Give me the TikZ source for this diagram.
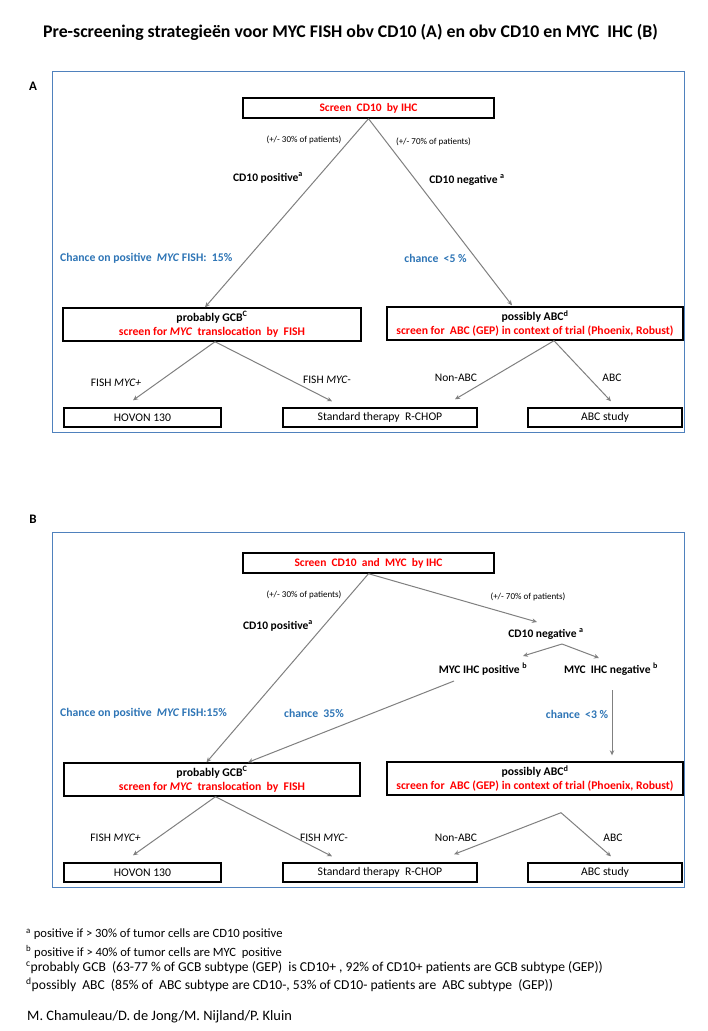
\documentclass[tikz,border=0pt]{standalone}
\usepackage{fontspec}
\setmainfont{Carlito}
\usetikzlibrary{arrows.meta}
\definecolor{panelblue}{RGB}{79,129,189}
\definecolor{txtblue}{RGB}{46,117,182}
\definecolor{lgray}{RGB}{128,128,128}
\newcommand{\fs}[1]{\fontsize{#1}{#1}\selectfont}
\begin{document}
\begin{tikzpicture}[x=1pt,y=-1pt,
  panel/.style={draw=panelblue,line width=0.9pt},
  box/.style={draw=black,line width=1.4pt,inner sep=0pt,align=center,font=\fs{11.7}},
  lbl/.style={inner sep=0pt,font=\fs{11.5}},
  blbl/.style={inner sep=0pt,font=\fs{11.5}\bfseries},
  small/.style={inner sep=0pt,font=\fs{9}},
  bluelbl/.style={inner sep=0pt,font=\fs{11.7}\bfseries,text=txtblue},
  conn/.style={draw=lgray,line width=1pt,-{Stealth[length=5pt,width=4.5pt]}},
  foot/.style={inner sep=0pt,anchor=west}]
\fill[white] (0,0) rectangle (708,1031);
\useasboundingbox (0,0) rectangle (708,1031);
% title
\node[inner sep=0pt,anchor=west,font=\fs{17.8}\bfseries] (title) at (43,32) {Pre-screening strategieën voor MYC FISH obv CD10 (A) en obv CD10 en MYC\ \ IHC (B)};
\node[inner sep=0pt,font=\fs{13}\bfseries] (labA) at (33,86) {A};
\node[inner sep=0pt,font=\fs{13}\bfseries] (labB) at (33,519) {B};
% ================= Panel A =================
\draw[panel] (52,71) rectangle (684,432);
\node[box,minimum width=251pt,minimum height=20pt,text=red,font=\fs{11.5}\bfseries] (scrA) at (368.5,108) {Screen\ \ CD10\ \ by IHC};
\node[box,minimum width=298pt,minimum height=33pt] (gcbA) at (212,324.5) {\textbf{probably GCB\textsuperscript{C}}\\[2.5pt]\textcolor{red}{\textbf{screen for \textit{MYC}\ \ translocation\ \ by\ \ FISH}}};
\node[box,minimum width=296pt,minimum height=33pt] (abcA) at (535,323.5) {\textbf{possibly ABC\textsuperscript{d}}\\[2.5pt]\textcolor{red}{\textbf{screen for\ \ ABC (GEP) in context of trial (Phoenix, Robust)}}};
\node[box,minimum width=157pt,minimum height=19pt] (hovA) at (142.5,417.5) {HOVON 130};
\node[box,minimum width=194pt,minimum height=19pt] (stdA) at (380,417.5) {Standard therapy\ \ R-CHOP};
\node[box,minimum width=154pt,minimum height=19pt] (abcsA) at (605,417.5) {ABC study};
\node[small] (p30A) at (304,140) {(+/- 30\% of patients)};
\node[small] (p70A) at (433.5,142) {(+/- 70\% of patients)};
\node[blbl] (cdposA) at (268,178) {CD10 positive\textsuperscript{a}};
\node[blbl] (cdnegA) at (467,180) {CD10 negative \textsuperscript{a}};
\node[bluelbl,anchor=west] (chA) at (60,258) {Chance on positive\ \ \textit{MYC} FISH:\ \ 15\%};
\node[bluelbl] (ch5A) at (435.5,258) {chance\ \ {<}5 \%};
\node[lbl] (fpA) at (116,383) {FISH \textit{MYC+}};
\node[lbl] (fmA) at (327,380) {FISH \textit{MYC-}};
\node[lbl] (nabcA) at (456,378) {Non-ABC};
\node[lbl] (yabcA) at (612,378) {ABC};
\draw[conn] (scrA.south) -- ([xshift=-7pt]gcbA.north);
\draw[conn] (scrA.south) -- ([xshift=-23pt,yshift=1pt]abcA.north);
\draw[conn] ([xshift=3pt]gcbA.south) -- ([xshift=-9.5pt,yshift=7pt]hovA.north);
\draw[conn] ([xshift=3pt]gcbA.south) -- ([xshift=-48pt,yshift=6pt]stdA.north);
\draw[conn] ([xshift=19pt]abcA.south) -- ([xshift=75pt,yshift=8pt]stdA.north);
\draw[conn] ([xshift=19pt]abcA.south) -- ([xshift=6pt,yshift=6pt]abcsA.north);
% ================= Panel B =================
\draw[panel] (52,532) rectangle (684,887);
\node[box,minimum width=251pt,minimum height=20pt,text=red,font=\fs{11.5}\bfseries] (scrB) at (368.5,563) {Screen\ \ CD10\ \ and\ \ MYC\ \ by IHC};
\node[box,minimum width=296pt,minimum height=33pt] (gcbB) at (212,779.5) {\textbf{probably GCB\textsuperscript{C}}\\[2.5pt]\textcolor{red}{\textbf{screen for \textit{MYC}\ \ translocation\ \ by\ \ FISH}}};
\node[box,minimum width=296pt,minimum height=33pt] (abcB) at (535,778.5) {\textbf{possibly ABC\textsuperscript{d}}\\[2.5pt]\textcolor{red}{\textbf{screen for\ \ ABC (GEP) in context of trial (Phoenix, Robust)}}};
\node[box,minimum width=157pt,minimum height=19pt] (hovB) at (142.5,872.5) {HOVON 130};
\node[box,minimum width=194pt,minimum height=19pt] (stdB) at (380,872.5) {Standard therapy\ \ R-CHOP};
\node[box,minimum width=154pt,minimum height=19pt] (abcsB) at (605,872.5) {ABC study};
\node[small] (p30B) at (304,595) {(+/- 30\% of patients)};
\node[small] (p70B) at (528,597) {(+/- 70\% of patients)};
\node[blbl] (cdposB) at (278,626) {CD10 positive\textsuperscript{a}};
\node[blbl] (cdnegB) at (546,634) {CD10 negative \textsuperscript{a}};
\node[blbl] (mycposB) at (483,669) {MYC IHC positive \textsuperscript{b}};
\node[blbl] (mycnegB) at (611,669) {MYC\ \ IHC negative \textsuperscript{b}};
\node[bluelbl,anchor=west] (chB) at (60,713) {Chance on positive\ \ \textit{MYC} FISH:15\%};
\node[bluelbl] (ch35B) at (314,713) {chance\ \ 35\%};
\node[bluelbl] (ch3B) at (577,714) {chance\ \ {<}3 \%};
\node[lbl] (fpB) at (115.5,838) {FISH \textit{MYC+}};
\node[lbl] (fmB) at (324,838) {FISH \textit{MYC-}};
\node[lbl] (nabcB) at (456,838) {Non-ABC};
\node[lbl] (yabcB) at (613,838) {ABC};
\coordinate (splitB) at ([yshift=-10pt]cdnegB.center);
\draw[conn] (scrB.south) -- ([xshift=-5.5pt]gcbB.north);
\draw[conn] (scrB.south) -- ([xshift=-9pt,yshift=12pt]cdnegB.center);
\draw[conn] ([xshift=16pt]splitB) -- ([xshift=40pt,yshift=13pt]mycposB.center);
\draw[conn] ([xshift=16pt]splitB) -- ([xshift=-12pt,yshift=11pt]mycnegB.center);
\draw[conn] ([xshift=-29pt,yshift=-12pt]mycposB.center) -- ([xshift=36pt]gcbB.north);
\draw[conn] ([xshift=1pt,yshift=-21pt]mycnegB.center) -- ([xshift=77pt,yshift=6pt]abcB.north);
\draw[conn] ([xshift=3.5pt]gcbB.south) -- ([xshift=-9.5pt,yshift=7pt]hovB.north);
\draw[conn] ([xshift=3.5pt]gcbB.south) -- ([xshift=-48pt,yshift=6pt]stdB.north);
\draw[conn] ([xshift=26pt,yshift=-17pt]abcB.south) -- ([xshift=74pt,yshift=8pt]stdB.north);
\draw[conn] ([xshift=26pt,yshift=-17pt]abcB.south) -- ([xshift=6pt,yshift=6pt]abcsB.north);
% ================= Footnotes =================
\node[foot,font=\fs{12.6}] (fa) at (26,934) {\textsuperscript{a} positive if > 30\% of tumor cells are CD10 positive};
\node[foot,font=\fs{12.6}] (fb) at (26,952) {\textsuperscript{b} positive if > 40\% of tumor cells are MYC\ \ positive};
\node[foot,font=\fs{13.6}] (fc) at (26,968) {\textsuperscript{c}probably GCB\ \ (63-77 \% of GCB subtype (GEP)\ \ is CD10+ , 92\% of CD10+ patients are GCB subtype (GEP))};
\node[foot,font=\fs{13.6}] (fd) at (26,985) {\textsuperscript{d}possibly\ \ ABC\ \ (85\% of\ \ ABC subtype are CD10-, 53\% of CD10- patients are\ \ ABC subtype\ \ (GEP))};
\node[inner sep=0pt,anchor=west,font=\fs{14.4}] (auth) at (27,1017) {M. Chamuleau/D. de Jong/M. Nijland/P. Kluin};
\end{tikzpicture}
\end{document}
